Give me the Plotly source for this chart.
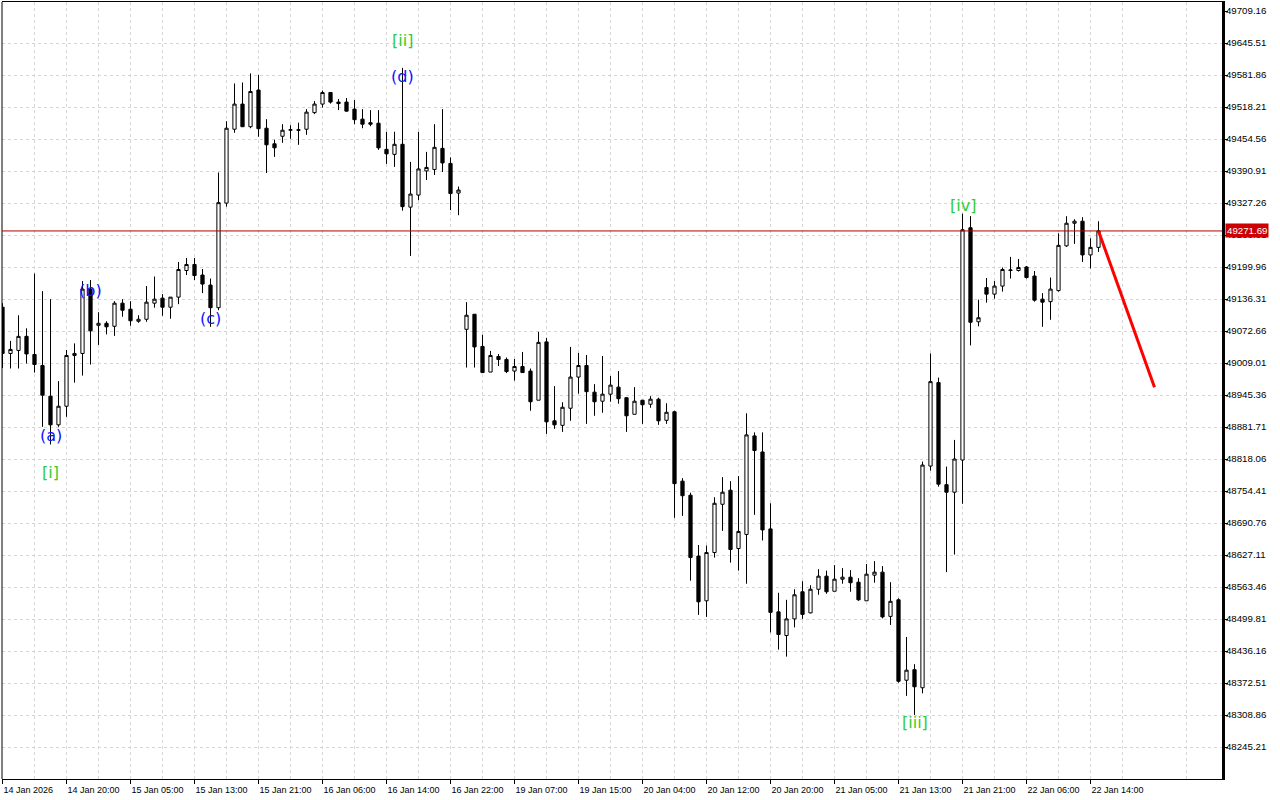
import plotly.graph_objects as go

# ---------------- data (H1 candles, index 0..137) ----------------
opens = [49120, 49028, 49034, 49062, 49026, 49004, 48943, 48886, 48923, 49024,
         49028, 49156, 49084, 49088, 49082, 49128, 49116, 49092, 49096, 49128,
         49138, 49120, 49140, 49193, 49205, 49184, 49164, 49119, 49327, 49474,
         49524, 49479, 49552, 49476, 49445, 49460, 49472, 49473, 49474, 49507,
         49524, 49547, 49528, 49528, 49514, 49494, 49487, 49486, 49434, 49424,
         49444, 49319, 49343, 49391, 49394, 49436, 49406, 49347, 49076, 49106,
         49042, 48991, 49022, 49016, 48993, 49002, 48993, 48935, 49051, 48894,
         48885, 48919, 48981, 49004, 48951, 48933, 48947, 48961, 48940, 48907,
         48935, 48927, 48937, 48895, 48912, 48774, 48746, 48625, 48536, 48632,
         48728, 48756, 48640, 48668, 48864, 48832, 48679, 48514, 48467, 48500,
         48554, 48512, 48559, 48585, 48555, 48579, 48583, 48573, 48536, 48587,
         48593, 48505, 48538, 48378, 48399, 48363, 48804, 48970, 48767, 48752,
         48816, 49278, 49091, 49159, 49146, 49162, 49193, 49193, 49200, 49182,
         49136, 49131, 49153, 49242, 49287, 49291, 49224, 49239]
highs = [49128, 49053, 49104, 49078, 49187, 49152, 49136, 48973, 49035, 49048,
         49172, 49174, 49110, 49092, 49132, 49136, 49132, 49104, 49162, 49181,
         49146, 49140, 49210, 49218, 49218, 49196, 49177, 49388, 49490, 49565,
         49567, 49585, 49582, 49494, 49453, 49484, 49482, 49487, 49514, 49530,
         49551, 49547, 49534, 49536, 49532, 49514, 49512, 49512, 49469, 49469,
         49596, 49409, 49469, 49429, 49484, 49514, 49418, 49360, 49130, 49106,
         49065, 49033, 49027, 49020, 49017, 49031, 48998, 49071, 49059, 48963,
         48931, 49041, 49029, 49025, 48967, 49023, 48983, 48993, 48941, 48961,
         48935, 48943, 48940, 48929, 48914, 48780, 48751, 48647, 48646, 48742,
         48782, 48774, 48784, 48909, 48871, 48871, 48730, 48552, 48538, 48559,
         48575, 48567, 48599, 48596, 48607, 48601, 48597, 48581, 48609, 48615,
         48605, 48573, 48541, 48464, 48410, 48813, 49028, 48980, 48803, 48856,
         49306, 49301, 49135, 49178, 49172, 49199, 49220, 49216, 49202, 49192,
         49148, 49179, 49267, 49301, 49295, 49299, 49257, 49291]
lows = [48999, 48998, 48998, 49008, 48990, 48882, 48847, 48882, 48902, 48970,
        48984, 49006, 49045, 49066, 49063, 49101, 49083, 49089, 49091, 49119,
        49103, 49097, 49126, 49184, 49174, 49148, 49081, 49114, 49320, 49467,
        49479, 49476, 49459, 49387, 49419, 49447, 49455, 49443, 49463, 49504,
        49517, 49525, 49512, 49509, 49484, 49476, 49480, 49433, 49405, 49399,
        49312, 49222, 49333, 49373, 49383, 49389, 49313, 49303, 49000, 49000,
        48989, 48991, 49003, 48989, 48974, 48990, 48914, 48935, 48868, 48878,
        48872, 48894, 48948, 48888, 48904, 48910, 48932, 48928, 48872, 48907,
        48888, 48920, 48886, 48888, 48701, 48705, 48576, 48508, 48504, 48622,
        48675, 48612, 48596, 48570, 48707, 48656, 48473, 48439, 48425, 48483,
        48500, 48511, 48548, 48550, 48555, 48570, 48554, 48536, 48536, 48572,
        48501, 48488, 48373, 48347, 48309, 48352, 48795, 48763, 48593, 48628,
        48729, 49044, 49082, 49129, 49137, 49151, 49177, 49191, 49177, 49131,
        49081, 49095, 49151, 49240, 49246, 49210, 49197, 49230]
closes = [49028, 49036, 49062, 49027, 49006, 48945, 48886, 48923, 49024, 49028,
          49156, 49073, 49088, 49081, 49128, 49114, 49093, 49096, 49130, 49136,
          49120, 49140, 49195, 49205, 49183, 49166, 49119, 49328, 49476, 49524,
          49479, 49549, 49475, 49443, 49437, 49472, 49473, 49472, 49508, 49524,
          49547, 49528, 49525, 49510, 49493, 49484, 49484, 49437, 49425, 49444,
          49320, 49345, 49395, 49398, 49438, 49407, 49346, 49353, 49104, 49041,
          48990, 49024, 49016, 48992, 49002, 48990, 48932, 49050, 48892, 48886,
          48921, 48981, 49004, 48952, 48932, 48947, 48965, 48938, 48904, 48933,
          48926, 48937, 48894, 48911, 48769, 48745, 48622, 48534, 48632, 48730,
          48752, 48638, 48674, 48866, 48835, 48677, 48513, 48469, 48500, 48548,
          48509, 48559, 48585, 48554, 48579, 48583, 48572, 48538, 48589, 48593,
          48504, 48535, 48376, 48398, 48365, 48806, 48972, 48768, 48752, 48818,
          49274, 49090, 49099, 49146, 49162, 49195, 49194, 49199, 49179, 49134,
          49130, 49156, 49243, 49287, 49291, 49224, 49239, 49271.69]

x_tick_labels = ["14 Jan 2026", "14 Jan 20:00", "15 Jan 05:00", "15 Jan 13:00",
                 "15 Jan 21:00", "16 Jan 06:00", "16 Jan 14:00", "16 Jan 22:00",
                 "19 Jan 07:00", "19 Jan 15:00", "20 Jan 04:00", "20 Jan 12:00",
                 "20 Jan 20:00", "21 Jan 05:00", "21 Jan 13:00", "21 Jan 21:00",
                 "22 Jan 06:00", "22 Jan 14:00"]
price_levels = [49709.16, 49645.51, 49581.86, 49518.21, 49454.56, 49390.91,
                49327.26, 49263.61, 49199.96, 49136.31, 49072.66, 49009.01,
                48945.36, 48881.71, 48818.06, 48754.41, 48690.76, 48627.11,
                48563.46, 48499.81, 48436.16, 48372.51, 48308.86, 48245.21]
current_price = 49271.69

forecast_x = [137, 144]
forecast_y = [49271.69, 48961]

wave_labels = ["(a)", "[i]", "(b)", "(c)", "(d)", "[ii]", "[iii]", "[iv]"]
wave_x = [6, 6, 11, 26, 50, 50, 114, 120]
wave_y = [48864, 48792, 49154, 49098, 49578, 49651, 48293, 49323]
wave_kind = ["minor", "major", "minor", "minor", "minor", "major", "major", "major"]

# ---------------- figure ----------------
idx = list(range(len(opens)))
GRID = "#d6d6d6"
DASH = "3px,3px"
XFONT = dict(family="Liberation Sans, Arial, sans-serif", size=9, color="black")
YFONT = dict(family="Liberation Sans, Arial, sans-serif", size=9.7, color="black")

fig = go.Figure()
fig.add_trace(go.Candlestick(
    x=idx, open=opens, high=highs, low=lows, close=closes,
    increasing=dict(fillcolor="white", line=dict(color="black", width=1)),
    decreasing=dict(fillcolor="black", line=dict(color="black", width=1)),
    whiskerwidth=0, hoverinfo="skip", showlegend=False,
))
fig.add_trace(go.Scatter(
    x=forecast_x, y=forecast_y, mode="lines",
    line=dict(color="#ff0000", width=3), hoverinfo="skip", showlegend=False,
))

major_ticks = [8 * i for i in range(len(x_tick_labels))]
minor_ticks = [8 * i + 4 for i in range(len(x_tick_labels) + 2)]

fig.update_layout(
    width=1280, height=800,
    margin=dict(l=2, r=58, t=2, b=21),
    plot_bgcolor="white", paper_bgcolor="white",
    showlegend=False, boxgap=0.42,
    xaxis=dict(
        range=[-0.0625, 152.4375],
        tickmode="array", tickvals=major_ticks, ticktext=x_tick_labels,
        ticks="outside", ticklen=4, tickcolor="black", tickwidth=1,
        ticklabelposition="outside right", tickfont=XFONT, ticklabelstandoff=2,
        showgrid=True, gridcolor=GRID, griddash=DASH, gridwidth=1,
        minor=dict(tickvals=minor_ticks, showgrid=True, gridcolor=GRID,
                   griddash=DASH, gridwidth=1, ticks=""),
        showline=True, linecolor="black", linewidth=1, mirror=True,
        zeroline=False, rangeslider=dict(visible=False), fixedrange=True,
    ),
    yaxis=dict(
        side="right", range=[48181.56, 49727.06],
        tickmode="array", tickvals=price_levels,
        ticktext=[f"{v:.2f}" for v in price_levels],
        ticks="outside", ticklen=3, tickcolor="black", tickwidth=1,
        tickfont=YFONT, ticklabelstandoff=-4,
        showgrid=False,
        minor=dict(tickvals=price_levels[1:], showgrid=True, gridcolor=GRID,
                   griddash=DASH, gridwidth=1, ticks=""),
        showline=True, linecolor="black", linewidth=3,
        zeroline=False, fixedrange=True,
    ),
)

# left border
fig.add_shape(type="line", xref="paper", yref="paper", x0=0, x1=0, y0=0, y1=1,
              line=dict(color="black", width=1))
# bid line
fig.add_shape(type="line", xref="paper", yref="y", x0=0, x1=1,
              y0=current_price, y1=current_price,
              line=dict(color="#b00000", width=1))
# bid label
fig.add_annotation(xref="paper", yref="y", x=1, y=current_price,
                   xanchor="left", yanchor="middle", xshift=3,
                   text=f"{current_price:.2f}", showarrow=False,
                   bgcolor="#cc0000", borderpad=1,
                   font=dict(family="Liberation Sans, Arial, sans-serif", size=9.7, color="white"))

# wave labels
for t, xv, yv, k in zip(wave_labels, wave_x, wave_y, wave_kind):
    fig.add_annotation(x=xv, y=yv, text=t, showarrow=False,
                       xanchor="center", yanchor="middle",
                       font=dict(family="DejaVu Sans", size=16,
                                 color="#32cd32" if k == "major" else "#1010ff"))

fig.write_html("out.html", config={"displayModeBar": False},
               post_script="document.body.style.margin='0';")
